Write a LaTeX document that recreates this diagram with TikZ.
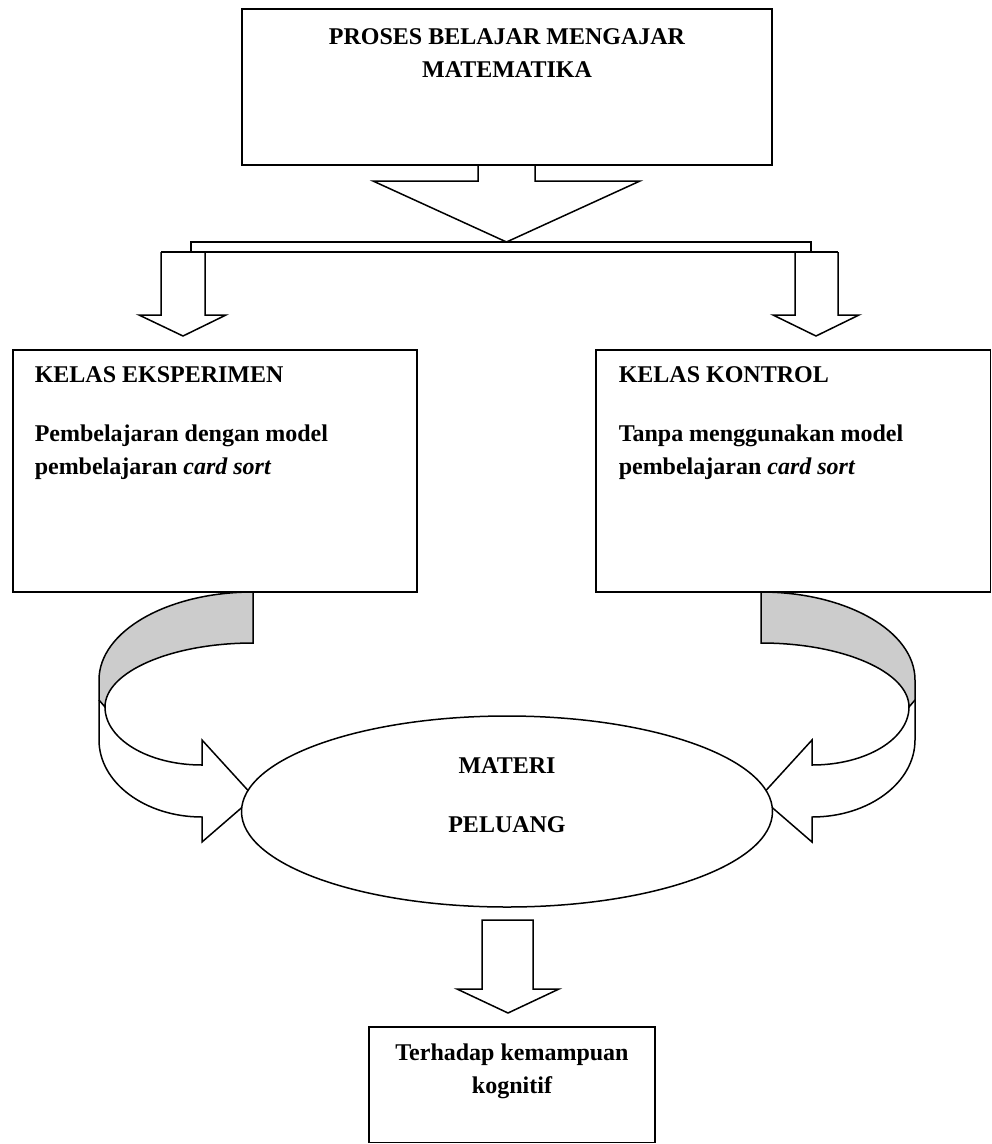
\documentclass[tikz,border=0pt]{standalone}
\usepackage{fontspec}
\setmainfont{Liberation Serif}
\usetikzlibrary{shapes.geometric, positioning}

\begin{document}
\begin{tikzpicture}[
		x=1pt, y=-1pt,
		line width=1.5pt,
		kotak/.style={draw, rectangle, inner sep=0pt},
		teks/.style={inner sep=0pt, font=\fontsize{24}{33}\selectfont\bfseries},
		lonjong/.style={draw, ellipse, fill=white, inner sep=0pt},
		sisi/.style={fill=black!20}
		]
		\useasboundingbox (0,0) rectangle (992,1144);
		
		% kotak atas
		\node (proses) at (507,87) [kotak, minimum width=530pt, minimum height=156pt] {};
		\node (prosesTeks) at (507,28) [teks, anchor=north, align=center] {PROSES BELAJAR MENGAJAR\\MATEMATIKA};
		
		% panah ke bawah dan cabang
		\draw (478,165) -- (478,181) -- (373,181) -- (506.5,242) -- (640,181) -- (535,181) -- (535,165);
		\draw (191,242) rectangle (811,252);
		\draw (161,252) -- (838,252);
		\draw (161,252) -- (161,315) -- (139,315) -- (183,336) -- (226,315) -- (205,315) -- (205,252);
		\draw (795,252) -- (795,315) -- (773,315) -- (816,336) -- (859,315) -- (838,315) -- (838,252);
		
		% kotak kelas
		\node (eksperimen) at (215,471) [kotak, minimum width=404pt, minimum height=242pt] {};
		\node (eksperimenTeks) at (34,366) [teks, anchor=north west, align=left] {KELAS EKSPERIMEN\\[26pt]Pembelajaran dengan model\\pembelajaran \textit{card sort}};
		\node (kontrol) at (793.25,471) [kotak, minimum width=394.5pt, minimum height=242pt] {};
		\node (kontrolTeks) at (618,366) [teks, anchor=north west, align=left] {KELAS KONTROL\\[26pt]Tanpa menggunakan model\\pembelajaran \textit{card sort}};
		
		% panah melengkung kiri dan kanan
		\foreach \s/\geser in {1/0, -1/1014}
		{
			\begin{scope}[xshift=\geser pt, xscale=\s]
				\draw[sisi] (253,592) .. controls (168,592) and (99,631) .. (99,680) -- (99,700) -- (105,707) .. controls (105,672) and (171,643) .. (253,643) -- cycle;
				\draw (99,700) -- (99,740) .. controls (99,782.5) and (145,817) .. (202,817) -- (202,842) -- (254,797) -- (202,740) -- (202,765) .. controls (148,765) and (105,739) .. (105,707);
			\end{scope}
		}
		
		% materi
		\node (materi) at (507,811.5) [lonjong, minimum width=531pt, minimum height=191pt] {};
		\node (materiTeks) at (507,757) [teks, anchor=north, align=center] {MATERI\\[26pt]PELUANG};
		
		% panah ke hasil
		\draw (482,920) -- (533,920) -- (533,989) -- (559,989) -- (508,1013) -- (457,989) -- (482,989) -- cycle;
		\node (hasil) at (512,1084.75) [kotak, minimum width=286pt, minimum height=115.5pt] {};
		\node (hasilTeks) at (512,1043) [teks, anchor=north, align=center] {Terhadap kemampuan\\kognitif};
\end{tikzpicture}
\end{document}
